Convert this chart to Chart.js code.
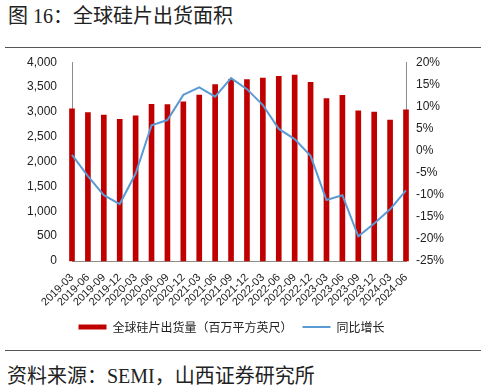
<!DOCTYPE html>
<html>
<head>
<meta charset="utf-8">
<script src="https://cdn.jsdelivr.net/npm/chart.js@4.4.1/dist/chart.umd.min.js"></script>
<style>
  body { margin: 0; width: 485px; height: 392px; background: #fff; position: relative; overflow: hidden; }
  .title { position: absolute; left: 8px; top: 2px; font: 20px "Liberation Serif", "Noto Sans CJK SC"; color: #222; line-height: 28px; }
  .rule { position: absolute; left: 5px; width: 476px; height: 0; border-top: 1.5px solid #555; }
  .source { position: absolute; left: 7px; top: 362px; font: 20px "Liberation Serif", "Noto Sans CJK SC"; color: #222; line-height: 28px; }
  #wrap { position: absolute; left: 0; top: 40px; width: 485px; height: 303px; }
</style>
</head>
<body>
<div class="title">图 16：全球硅片出货面积</div>
<div class="rule" style="top:47px"></div>
<div id="wrap"><canvas id="chart"></canvas></div>
<div class="rule" style="top:350px"></div>
<div class="source">资料来源：SEMI，山西证券研究所</div>

<script>
// quarters
const quarters = [
  "2019-03", "2019-06", "2019-09", "2019-12",
  "2020-03", "2020-06", "2020-09", "2020-12",
  "2021-03", "2021-06", "2021-09", "2021-12",
  "2022-03", "2022-06", "2022-09", "2022-12",
  "2023-03", "2023-06", "2023-09", "2023-12",
  "2024-03", "2024-06"
];

// global wafer shipments, million square inches
const shipments = [
  3060, 2985, 2935, 2850,
  2920, 3150, 3145, 3205,
  3340, 3550, 3655, 3650,
  3680, 3715, 3740, 3595,
  3270, 3335, 3020, 2995,
  2835, 3040
];

// year over year growth, %
const yoy = [
  -1.0, -5.8, -10.1, -12.1,
  -5.2, 5.7, 6.9, 12.6,
  14.3, 12.2, 16.4, 13.9,
  10.3, 4.9, 2.6, -1.2,
  -11.2, -10.1, -19.4, -16.5,
  -13.3, -9.0
];

const leftTicks = [0, 4000, 500];   // min, max, step
const rightTicks = [-25, 20, 5];

const RED = "#C00000";
const BLUE = "#5B9BD5";
const AXIS = "#8c8c8c";
const tickFont = { family: "Liberation Sans, Arial", size: 12 };

new Chart(document.getElementById("chart"), {
  type: "bar",
  data: {
    labels: quarters,
    datasets: [
      {
        label: "全球硅片出货量（百万平方英尺）",
        data: shipments,
        backgroundColor: RED,
        borderColor: RED,
        borderWidth: 0,
        barThickness: 5,
        yAxisID: "y",
        order: 2,
        clip: false,
        pointStyle: "rect",
      },
      {
        type: "line",
        label: "同比增长",
        data: yoy,
        borderColor: BLUE,
        backgroundColor: BLUE,
        borderWidth: 2,
        pointRadius: 0,
        tension: 0,
        yAxisID: "y1",
        order: 1,
        pointStyle: "line",
      },
    ],
  },
  options: {
    responsive: true,
    maintainAspectRatio: false,
    animation: false,
    // right padding keeps the legend centred like the original
    layout: { padding: { top: 2, left: 0, right: 22, bottom: 0 } },
    plugins: {
      tooltip: { enabled: false },
      legend: {
        position: "bottom",
        labels: {
          usePointStyle: true,
          pointStyleWidth: 28,
          boxHeight: 5,
          padding: 10,
          color: "#222",
          font: { family: "Noto Sans CJK SC", size: 12 },
          sort: (a, b) => a.datasetIndex - b.datasetIndex,
        },
      },
    },
    scales: {
      x: {
        offset: false,
        grid: { display: false, drawTicks: false },
        border: { display: true, color: AXIS, width: 1 },
        ticks: {
          autoSkip: false,
          maxRotation: 45,
          minRotation: 45,
          padding: 10,
          color: "#222",
          font: { family: "Liberation Sans, Arial", size: 11 },
        },
        afterFit: (s) => { s.height = 50; },
      },
      y: {
        position: "left",
        min: leftTicks[0],
        max: leftTicks[1],
        grid: { display: false, drawTicks: false },
        border: { display: true, color: AXIS, width: 1 },
        ticks: { stepSize: leftTicks[2], padding: 15, color: "#222", font: tickFont },
        afterFit: (s) => { s.width = 72; },
      },
      y1: {
        position: "right",
        min: rightTicks[0],
        max: rightTicks[1],
        grid: { display: false, drawTicks: false },
        border: { display: true, color: AXIS, width: 1 },
        ticks: {
          stepSize: rightTicks[2],
          padding: 10,
          color: "#222",
          font: tickFont,
          callback: (v) => v + "%",
        },
        afterFit: (s) => { s.width = 57; },
      },
    },
  },
});
</script>
</body>
</html>
